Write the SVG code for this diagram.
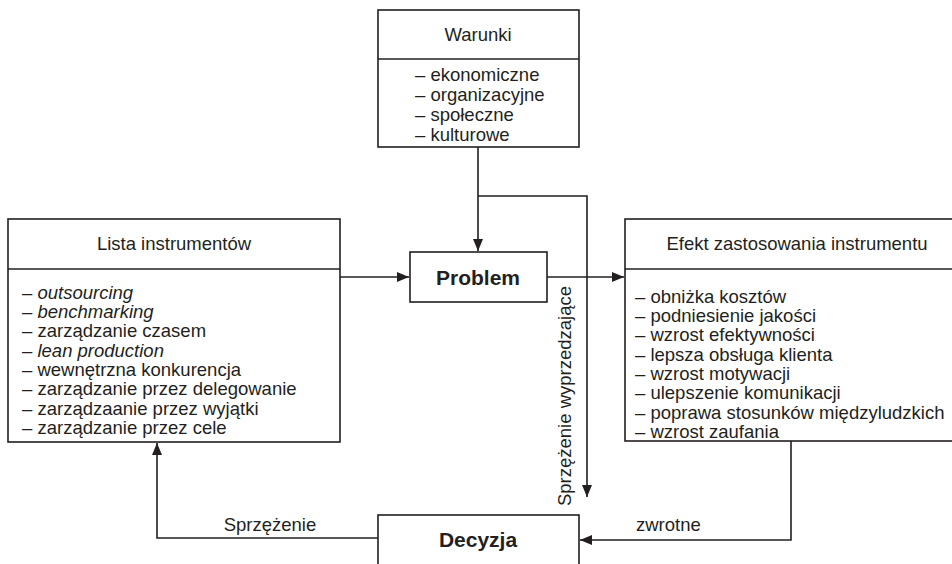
<svg xmlns="http://www.w3.org/2000/svg" width="952" height="564" viewBox="0 0 952 564">
<style>
text{font-family:"Liberation Sans",Arial,sans-serif;font-size:18.5px;fill:#231f20}
.c{text-anchor:middle}
.b{font-weight:bold;font-size:21px}
.i{font-style:italic}
.box{fill:#fff;stroke:#231f20;stroke-width:1.6}
.ln{fill:none;stroke:#231f20;stroke-width:1.6}
</style>
<defs>
<marker id="ah" markerWidth="12" markerHeight="10" refX="12" refY="5" orient="auto" markerUnits="userSpaceOnUse">
<path d="M0,0 L12,5 L0,10 Z" fill="#231f20"/>
</marker>
</defs>
<rect width="952" height="564" fill="#fff"/>
<g id="connectors">
<path class="ln" d="M478,147 V251" marker-end="url(#ah)"/>
<path class="ln" d="M478,196 H587 V497" marker-end="url(#ah)"/>
<path class="ln" d="M340,277 H409" marker-end="url(#ah)"/>
<path class="ln" d="M547,277 H624" marker-end="url(#ah)"/>
<path class="ln" d="M791,441 V540 H580" marker-end="url(#ah)"/>
<path class="ln" d="M378,538 H157 V443" marker-end="url(#ah)"/>
<text x="270" y="531" class="c">Sprzężenie</text>
<text x="636" y="531">zwrotne</text>
<text transform="translate(571,396) rotate(-90)" class="c">Sprzężenie wyprzedzające</text>
</g>
<g id="warunki">
<rect class="box" x="378" y="10" width="201" height="137"/>
<line class="ln" x1="378" y1="59" x2="579" y2="59"/>
<text x="478" y="41" class="c">Warunki</text>
<text x="415" y="81">– ekonomiczne</text>
<text x="415" y="101">– organizacyjne</text>
<text x="415" y="121">– społeczne</text>
<text x="415" y="141">– kulturowe</text>
</g>
<g id="lista">
<rect class="box" x="8" y="219" width="332" height="223"/>
<line class="ln" x1="8" y1="269" x2="340" y2="269"/>
<text x="174" y="250" class="c">Lista instrumentów</text>
<text x="22" y="299">– <tspan class="i">outsourcing</tspan></text>
<text x="22" y="318">– <tspan class="i">benchmarking</tspan></text>
<text x="22" y="337">– zarządzanie czasem</text>
<text x="22" y="357">– <tspan class="i">lean production</tspan></text>
<text x="22" y="376">– wewnętrzna konkurencja</text>
<text x="22" y="395">– zarządzanie przez delegowanie</text>
<text x="22" y="415">– zarządzaanie przez wyjątki</text>
<text x="22" y="434">– zarządzanie przez cele</text>
</g>
<g id="problem">
<rect class="box" x="410" y="252" width="137" height="50"/>
<text x="478" y="285" class="c b">Problem</text>
</g>
<g id="efekt">
<rect class="box" x="625" y="219" width="340" height="222"/>
<line class="ln" x1="625" y1="269" x2="965" y2="269"/>
<text x="797" y="250" class="c">Efekt zastosowania instrumentu</text>
<text x="635" y="303">– obniżka kosztów</text>
<text x="635" y="322">– podniesienie jakości</text>
<text x="635" y="341">– wzrost efektywności</text>
<text x="635" y="361">– lepsza obsługa klienta</text>
<text x="635" y="380">– wzrost motywacji</text>
<text x="635" y="399">– ulepszenie komunikacji</text>
<text x="635" y="419">– poprawa stosunków międzyludzkich</text>
<text x="635" y="438">– wzrost zaufania</text>
</g>
<g id="decyzja">
<rect class="box" x="378" y="515" width="201" height="70"/>
<text x="478" y="547" class="c b">Decyzja</text>
</g>
</svg>
